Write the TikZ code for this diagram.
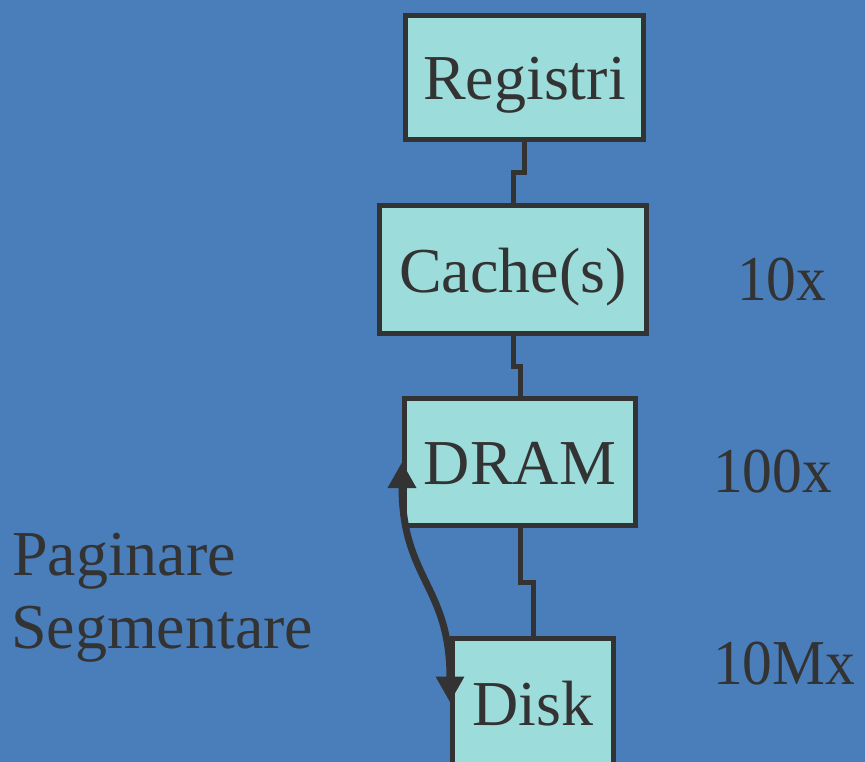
\documentclass[tikz,border=0pt]{standalone}
\usepackage{fontspec}
\setmainfont{Liberation Serif}
\usetikzlibrary{arrows.meta,calc}
\definecolor{bgblue}{HTML}{4A7EBA}
\definecolor{boxfill}{HTML}{9CDCDA}
\definecolor{ink}{HTML}{333333}
\newcommand{\bigfont}{\fontsize{64}{70}\selectfont}
\tikzset{
  level/.style={draw=ink, line width=5pt, fill=boxfill, text=ink,
    inner sep=0pt, text height=45pt, text depth=0pt, font=\bigfont},
  label/.style={text=ink, inner sep=0pt, font=\bigfont},
  cost/.style={label, xscale=0.93},
  link/.style={draw=ink, line width=5pt},
  swap/.style={draw=ink, line width=7pt,
    {Triangle[length=26pt,width=27pt]}-{Triangle[length=26pt,width=27pt]}}
}
\begin{document}
\begin{tikzpicture}[x=1pt,y=-1pt]
  \useasboundingbox (0,0) rectangle (865,762);
  \fill[bgblue] (0,0) rectangle (865,762);
  \clip (0,0) rectangle (865,762);

  % memory hierarchy levels
  \node[level, minimum width=238pt, minimum height=124pt] (reg)   at (524.5,77.5) {Registri};
  \node[level, minimum width=267pt, minimum height=128pt] (cache) at (513,269.5)  {Cache(s)};
  \node[level, minimum width=231pt, minimum height=127pt] (dram)  at (520,462)    {DRAM};
  \node[level, minimum width=161pt, minimum height=128pt] (disk)  at (533,702.5)  {Disk};

  % stepped links between neighbouring levels
  \foreach \a/\b in {reg/cache, cache/dram, dram/disk}{
    \coordinate (m) at ($(\a.south)!.5!(\b.north)$);
    \draw[link] (\a.south) -- (\a.south |- m) -- (\b.north |- m) -- (\b.north);
  }

  % relative access costs
  \node[cost, anchor=base west] (c1) at (737,301) {10x};
  \node[cost, anchor=base west] (c2) at (713,492) {100x};
  \node[cost, anchor=base west] (c3) at (713,684) {10Mx};

  % paging / segmentation between DRAM and disk
  \node[label, anchor=base west] (pag) at (12,575) {Paginare};
  \node[label, anchor=base west] (seg) at (11,648) {Segmentare};
  \draw[swap] (dram.west) .. controls +(0,117) and +(0,-117) .. (disk.west);
\end{tikzpicture}
\end{document}
